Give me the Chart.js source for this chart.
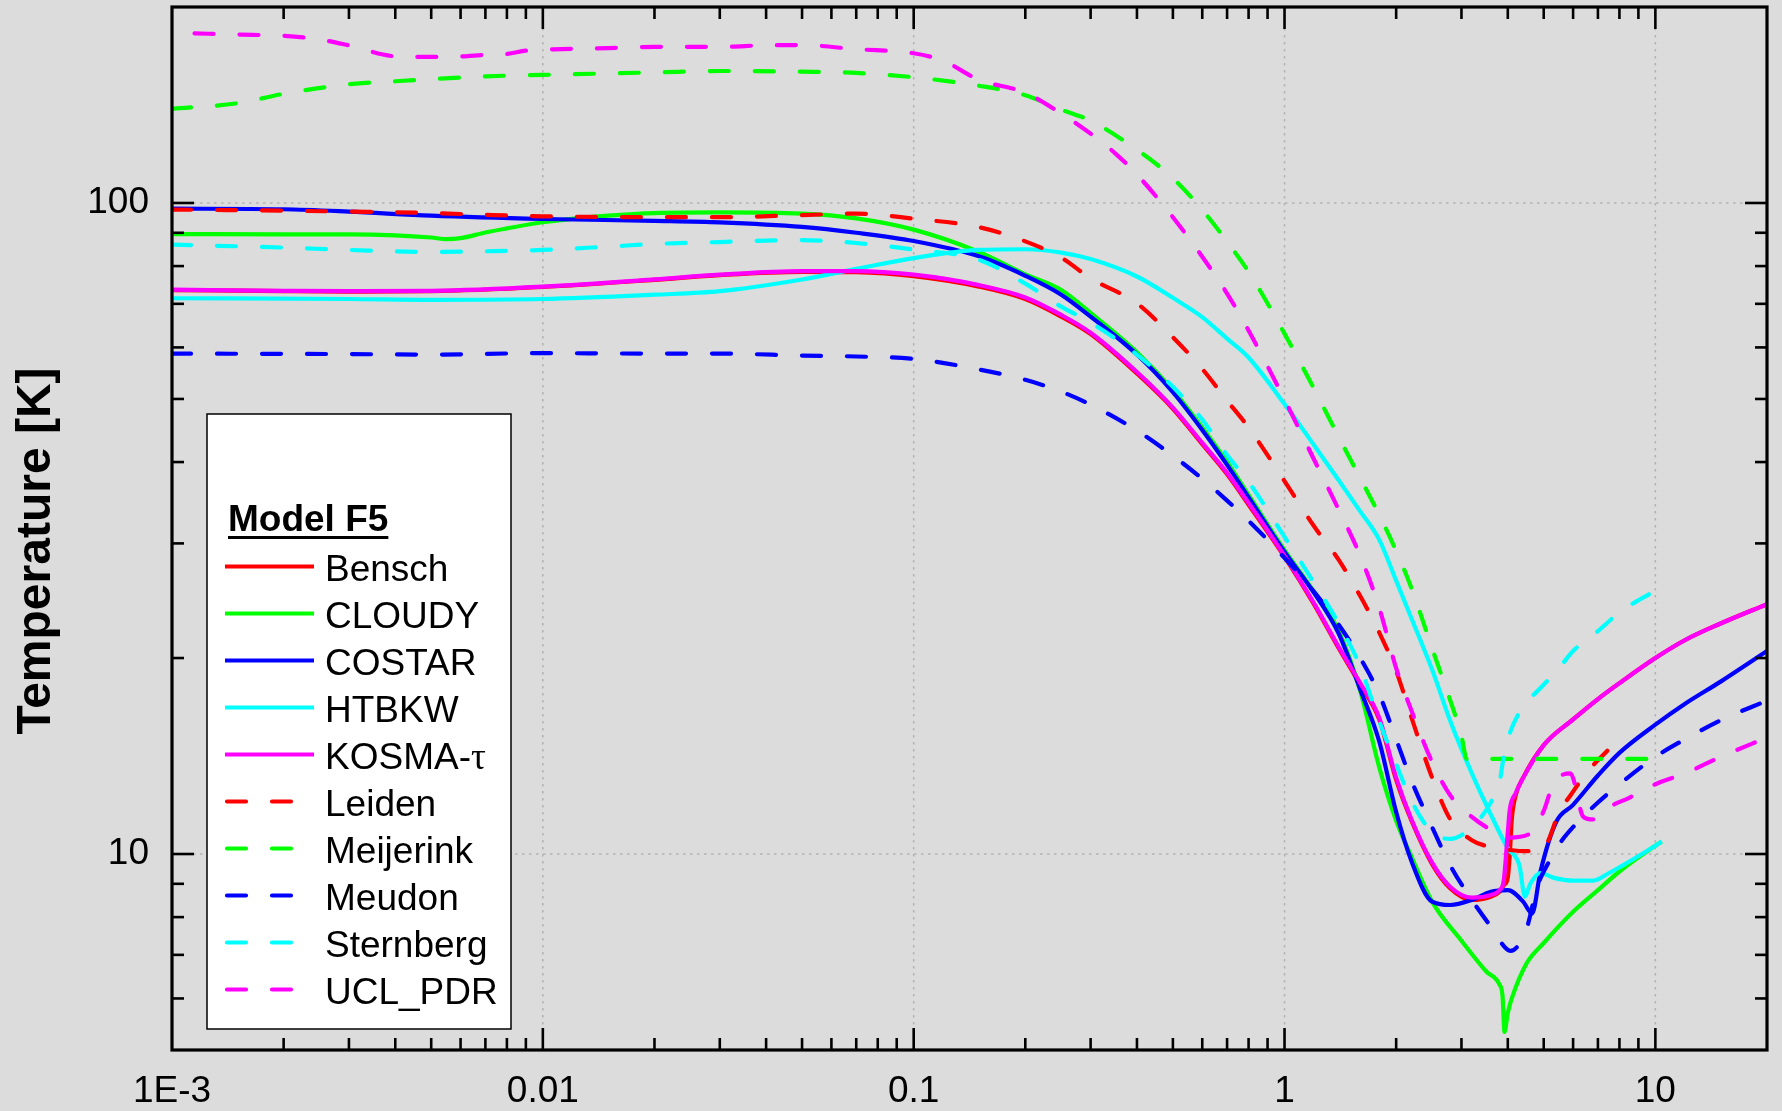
<!DOCTYPE html>
<html>
<head>
<meta charset="utf-8">
<title>Model F5 – Temperature</title>
<script src="https://cdn.jsdelivr.net/npm/chart.js@4.4.1/dist/chart.umd.min.js"></script>
<style>
  html, body { margin: 0; padding: 0; background: #dcdcdc; overflow: hidden; }
  #chart { display: block; }
</style>
</head>
<body>
<canvas id="chart" width="1782" height="1111" style="width:1782px;height:1111px"></canvas>
<script>
// ---------------- data ----------------
const legendTitle = 'Model F5';
const yAxisTitle = 'Temperature [K]';
const seriesNames  = ['Bensch','CLOUDY','COSTAR','HTBKW','KOSMA-τ','Leiden','Meijerink','Meudon','Sternberg','UCL_PDR'];
const seriesColors = ['#ff0000','#00ff00','#0000ff','#00ffff','#ff00ff','#ff0000','#00ff00','#0000ff','#00ffff','#ff00ff'];
const seriesDashed = [false,false,false,false,false,true,true,true,true,true];

const xTickValues = [0.001, 0.01, 0.1, 1, 10];
const xTickLabels = ['1E-3', '0.01', '0.1', '1', '10'];
const yTickValues = [10, 100];
const yTickLabels = ['10', '100'];
const xRange = [0.001, 20];
const yRange = [5, 200];

const benschX = [0.001,0.002,0.003,0.005,0.01,0.02,0.03,0.05,0.07,0.1,0.15,0.2,0.25,0.3,0.4,0.5,0.6,0.7,0.8,1,1.2,1.4,1.6,1.8,2,2.2,2.5,2.8,3.2,3.6,3.8,3.9,4,4.05,4.1,4.2,4.4,5,6,7,8,10,12,15,20];
const benschT = [73.5,73.2,73.1,73.2,74.3,76.2,77.5,78.4,78.3,77.2,74.4,71.2,66.9,62.9,54.7,48.3,42.6,38.3,34.4,28.6,24.2,20.7,18.2,16.1,13.0,11.25,9.65,8.85,8.5,8.6,8.75,8.95,9.2,10.0,11.3,12.3,13.1,14.7,16.1,17.3,18.3,20.0,21.3,22.6,24.2];

const cloudyX = [0.001,0.002,0.003,0.004,0.005,0.0055,0.006,0.007,0.008,0.01,0.015,0.02,0.03,0.05,0.07,0.1,0.15,0.2,0.25,0.3,0.4,0.5,0.6,0.7,0.8,1,1.2,1.4,1.6,1.8,2,2.2,2.5,3,3.5,3.8,3.87,3.92,4,4.1,4.5,5,6,7,8,10,10.4];
const cloudyT = [89.6,89.5,89.5,89.2,88.5,88.0,88.3,90.1,91.4,93.4,95.6,96.5,96.7,96.3,94.7,91.0,84.1,77.7,73.5,67.8,59.0,51.6,45.2,40.0,35.6,29.3,25.3,22.0,17.8,13.6,11.25,9.9,8.45,7.36,6.6,6.3,6.07,5.33,5.7,6.0,6.8,7.3,8.15,8.8,9.4,10.3,10.45];

const costarX = [0.001,0.002,0.003,0.005,0.01,0.02,0.03,0.05,0.07,0.1,0.15,0.2,0.25,0.3,0.4,0.5,0.6,0.7,0.8,1,1.2,1.4,1.6,1.8,2,2.2,2.5,2.8,3.2,3.6,4,4.4,4.65,4.9,5.4,6,7,8,10,12,15,20];
const costarT = [98.0,97.8,97.0,95.6,94.5,93.9,93.4,91.9,90.0,87.4,82.8,77.3,72.3,66.9,58.5,51.2,44.8,39.6,35.3,29.1,25.2,21.8,17.9,14.9,11.6,9.75,8.45,8.35,8.5,8.75,8.8,8.45,8.1,9.4,11.2,11.9,13.2,14.3,15.8,17.0,18.4,20.5];

const htbkwX = [0.001,0.003,0.005,0.01,0.02,0.03,0.05,0.07,0.1,0.15,0.2,0.25,0.3,0.4,0.5,0.6,0.7,0.8,1,1.2,1.4,1.6,1.8,2,2.2,2.5,2.8,3.2,3.6,4,4.3,4.45,4.6,4.9,5.3,6,6.8,7.5,10,10.4];
const htbkwT = [71.4,71.2,71.0,71.2,72.3,73.2,76.3,79.2,82.3,84.7,84.9,83.9,82.0,77.1,71.5,66.8,61.9,57.9,49.1,42.5,37.5,33.6,30.4,26.3,23.0,19.2,16.0,13.3,11.5,10.2,9.6,8.6,9.0,9.35,9.2,9.1,9.1,9.35,10.3,10.45];

const kosmaX = [0.001,0.002,0.003,0.005,0.01,0.02,0.03,0.05,0.07,0.1,0.15,0.2,0.25,0.3,0.4,0.5,0.6,0.7,0.8,1,1.2,1.4,1.6,1.8,2,2.2,2.5,2.8,3.2,3.6,3.8,3.9,4,4.05,4.2,4.4,5,6,7,8,10,12,15,20];
const kosmaT = [73.6,73.3,73.2,73.3,74.4,76.3,77.6,78.6,78.6,77.6,74.8,71.6,67.3,63.2,55.0,48.5,42.8,38.5,34.6,28.7,24.3,20.8,18.3,16.2,13.1,11.3,9.7,8.9,8.57,8.65,8.8,9.1,10.8,11.7,12.4,13.1,14.7,16.1,17.3,18.3,20.0,21.3,22.6,24.2];

const leidenX = [0.001,0.002,0.003,0.005,0.007,0.01,0.02,0.03,0.05,0.07,0.1,0.15,0.2,0.25,0.3,0.4,0.5,0.6,0.7,0.8,1,1.2,1.4,1.6,1.8,2,2.2,2.5,2.8,3.2,3.6,4,4.5,4.95,5.15,5.5,5.9,6.5,7.5];
const leidenT = [97.7,97.3,97.0,96.5,95.9,95.4,95.1,95.1,95.8,96.3,94.6,91.8,87.3,82.4,76.6,70.1,62.2,55.6,49.7,45.2,37.4,31.9,28.3,24.9,21.9,19.1,16.2,13.1,11.3,10.5,10.25,10.15,10.1,10.1,10.5,11.6,12.3,13.3,14.5];

const meijerinkX = [0.001,0.0015,0.002,0.003,0.004,0.005,0.007,0.01,0.02,0.03,0.05,0.07,0.1,0.15,0.2,0.25,0.3,0.4,0.5,0.6,0.7,0.8,1,1.2,1.4,1.6,1.8,2,2.2,2.5,2.8,3,3.1,5,10.8];
const meijerinkT = [139.5,142.3,147.1,152.2,153.8,155,156.5,157.3,158.7,159.5,159.1,158.4,156,151.4,146.4,139.1,133.8,120.7,109.2,97.6,87.2,78.4,63,51.9,43.7,37.8,33.2,29.2,25.6,20.7,17.2,15.2,14.0,14.0,14.0];

const meudonX = [0.001,0.003,0.005,0.01,0.02,0.03,0.05,0.07,0.1,0.15,0.2,0.25,0.3,0.4,0.5,0.6,0.7,0.8,1,1.2,1.4,1.6,1.8,2,2.2,2.5,2.8,3.2,3.6,4.07,4.5,4.8,5.2,5.5,6,7,8,10,12,15,20];
const meudonT = [58.7,58.6,58.5,58.8,58.7,58.7,58.3,58.1,57.6,55.5,53.5,51.3,49.0,44.7,40.9,37.7,34.9,32.5,28.5,25.3,22.5,20.0,17.6,15.0,12.96,11.0,9.6,8.5,7.74,7.1,7.7,8.9,9.8,10.35,11.0,12.0,12.8,14.1,15.0,16.05,17.2];

const sternbergX = [0.001,0.002,0.003,0.005,0.007,0.01,0.015,0.02,0.03,0.05,0.07,0.1,0.15,0.2,0.25,0.3,0.4,0.5,0.6,0.7,0.8,1,1.2,1.4,1.6,1.8,2,2.2,2.5,2.8,3.2,3.6,3.8,3.9,4,4.3,5,5.5,6,7,8,10,10.8];
const sternbergT = [86.3,85.4,84.7,84.1,84.3,84.7,85.7,86.5,87.1,87.7,86.8,84.8,81.8,75.2,69.3,65.5,58.5,52.2,46.5,41.0,37.3,30.7,26.1,22.6,19.4,16.0,13.75,12.07,10.8,10.55,11.0,12.0,12.9,14.1,15.0,16.5,18.2,19.3,20.5,22.0,23.5,25.4,26.1];

const uclX = [0.00115,0.0015,0.002,0.0025,0.003,0.004,0.005,0.006,0.007,0.008,0.009,0.01,0.015,0.02,0.03,0.04,0.05,0.07,0.1,0.12,0.15,0.2,0.25,0.3,0.35,0.4,0.5,0.6,0.7,0.8,1,1.2,1.4,1.6,1.8,2,2.2,2.5,2.8,3.2,3.5,4,4.6,5,5.3,5.9,6.4,6.8,7.5,8.5,10,12,15,20];
const uclT = [182.2,181.4,180.6,178.3,174.6,168.0,167.6,167.9,168.9,169.4,171.4,172.0,172.9,173.7,173.7,174.7,174.8,172.3,169.8,165.4,154.6,147.7,137.2,127.8,119.1,110.6,95.1,82.7,72.6,63.7,49.9,40.4,33.8,28.7,23.9,19.3,16.6,13.85,12.3,11.4,11.0,10.6,10.75,11.65,12.8,13.3,11.4,11.3,11.8,12.2,12.8,13.3,14.1,15.1];

const seriesX = [benschX, cloudyX, costarX, htbkwX, kosmaX, leidenX, meijerinkX, meudonX, sternbergX, uclX];
const seriesT = [benschT, cloudyT, costarT, htbkwT, kosmaT, leidenT, meijerinkT, meudonT, sternbergT, uclT];

// ---------------- styling ----------------
const FONT = '"Liberation Sans", Arial, Helvetica, sans-serif';
const SERIF = '"Liberation Serif", "Times New Roman", serif';
const DASH = [19, 26];
const LINE_W = 4.2;

Chart.defaults.font.family = FONT;
Chart.defaults.color = '#000';

function minorValues(decades, lo, hi) {
  const out = [];
  decades.forEach(d => {
    for (let m = 2; m <= 9; m++) {
      const v = d * m;
      if (v > lo * 1.0001 && v < hi * 0.9999) out.push(v);
    }
  });
  return out;
}

const framePlugin = {
  id: 'originFrame',
  beforeDatasetsDraw(chart) {
    const { ctx, chartArea: a, scales: { x, y } } = chart;
    ctx.save();
    ctx.strokeStyle = '#b2b2b2';
    ctx.lineWidth = 1.5;
    ctx.setLineDash([2.5, 4.5]);
    xTickValues.forEach(v => {
      const p = x.getPixelForValue(v);
      if (p <= a.left + 3 || p >= a.right - 3) return;
      ctx.beginPath(); ctx.moveTo(p, a.top); ctx.lineTo(p, a.bottom); ctx.stroke();
    });
    yTickValues.forEach(v => {
      const p = y.getPixelForValue(v);
      if (p <= a.top + 3 || p >= a.bottom - 3) return;
      ctx.beginPath(); ctx.moveTo(a.left, p); ctx.lineTo(a.right, p); ctx.stroke();
    });
    ctx.restore();
  },
  afterDatasetsDraw(chart) {
    const { ctx, chartArea: a, scales: { x, y } } = chart;
    ctx.save();

    // ---- legend box ----
    const bx = 207, by = 414, bw = 304, bh = 615;
    ctx.setLineDash([]);
    ctx.fillStyle = '#ffffff';
    ctx.fillRect(bx, by, bw, bh);
    ctx.strokeStyle = '#000';
    ctx.lineWidth = 1.5;
    ctx.strokeRect(bx, by, bw, bh);

    ctx.fillStyle = '#000';
    ctx.textAlign = 'left';
    ctx.textBaseline = 'alphabetic';
    ctx.font = 'bold 37px ' + FONT;
    const tx = 228, tBase = 531;
    ctx.fillText(legendTitle, tx, tBase);
    const tw = ctx.measureText(legendTitle).width;
    ctx.lineWidth = 2.8;
    ctx.beginPath(); ctx.moveTo(tx, tBase + 6.5); ctx.lineTo(tx + tw, tBase + 6.5); ctx.stroke();

    chart.data.datasets.forEach((ds, i) => {
      const cy = 566.5 + 47 * i;
      ctx.strokeStyle = ds.borderColor;
      ctx.lineWidth = LINE_W;
      if (ds.borderDash && ds.borderDash.length) {
        ctx.setLineDash(ds.borderDash);
        ctx.lineCap = 'round';
        ctx.beginPath(); ctx.moveTo(227, cy); ctx.lineTo(314, cy); ctx.stroke();
      } else {
        ctx.setLineDash([]);
        ctx.lineCap = 'butt';
        ctx.beginPath(); ctx.moveTo(225, cy); ctx.lineTo(314, cy); ctx.stroke();
      }
      ctx.setLineDash([]);
      ctx.fillStyle = '#000';
      const label = ds.label;
      const lx = 325, base = cy + 14;
      const k = label.indexOf('τ');
      if (k >= 0) {
        ctx.font = '37px ' + FONT;
        const pre = label.slice(0, k);
        ctx.fillText(pre, lx, base);
        const pw = ctx.measureText(pre).width;
        ctx.font = '37px ' + SERIF;
        ctx.fillText(label.slice(k), lx + pw, base);
      } else {
        ctx.font = '37px ' + FONT;
        ctx.fillText(label, lx, base);
      }
    });

    // ---- frame ----
    ctx.setLineDash([]);
    ctx.lineCap = 'butt';
    ctx.strokeStyle = '#000';
    ctx.lineWidth = 3.2;
    ctx.strokeRect(a.left, a.top, a.right - a.left, a.bottom - a.top);

    // ---- inward ticks on all four sides ----
    ctx.lineWidth = 2.6;
    const seg = (x1, y1, x2, y2) => { ctx.beginPath(); ctx.moveTo(x1, y1); ctx.lineTo(x2, y2); ctx.stroke(); };
    const xt = xTickValues.map(v => [v, 22]).concat(minorValues(xTickValues, xRange[0], xRange[1]).map(v => [v, 12]));
    xt.forEach(([v, len]) => {
      const p = x.getPixelForValue(v);
      if (p <= a.left + 2 || p >= a.right - 2) return;
      seg(p, a.top, p, a.top + len);
      seg(p, a.bottom, p, a.bottom - len);
    });
    const yDecades = [1, 10, 100];
    const yt = yTickValues.map(v => [v, 22]).concat(minorValues(yDecades, yRange[0], yRange[1]).map(v => [v, 12]));
    yt.forEach(([v, len]) => {
      const p = y.getPixelForValue(v);
      if (p <= a.top + 2 || p >= a.bottom - 2) return;
      seg(a.left, p, a.left + len, p);
      seg(a.right, p, a.right - len, p);
    });

    // ---- y axis title ----
    ctx.fillStyle = '#000';
    ctx.font = 'bold 48px ' + FONT;
    ctx.textAlign = 'center';
    ctx.textBaseline = 'alphabetic';
    ctx.translate(50, 551);
    ctx.rotate(-Math.PI / 2);
    ctx.fillText(yAxisTitle, 0, 0);

    ctx.restore();
  }
};

const datasets = seriesNames.map((name, i) => ({
  label: name,
  data: seriesX[i].map((xv, j) => ({ x: xv, y: seriesT[i][j] })),
  borderColor: seriesColors[i],
  backgroundColor: seriesColors[i],
  borderWidth: LINE_W,
  borderDash: seriesDashed[i] ? DASH : [],
  borderCapStyle: seriesDashed[i] ? 'round' : 'butt',
  borderJoinStyle: 'round',
  pointRadius: 0,
  pointHoverRadius: 0,
  cubicInterpolationMode: 'monotone',
  fill: false,
  order: seriesNames.length - i
}));

function noEdgePadding(s) {
  s.paddingTop = 0; s.paddingBottom = 0; s.paddingLeft = 0; s.paddingRight = 0;
}

new Chart(document.getElementById('chart'), {
  type: 'line',
  data: { datasets },
  options: {
    responsive: false,
    animation: false,
    devicePixelRatio: 1,
    layout: { padding: { left: 0, right: 15, top: 7, bottom: 0 } },
    plugins: { legend: { display: false }, tooltip: { enabled: false } },
    scales: {
      x: {
        type: 'logarithmic',
        position: 'bottom',
        min: xRange[0], max: xRange[1],
        afterBuildTicks: s => { s.ticks = xTickValues.map(v => ({ value: v })); },
        afterFit: s => { s.height = 61; noEdgePadding(s); },
        ticks: {
          autoSkip: false, maxRotation: 0, minRotation: 0, padding: 20,
          font: { family: FONT, size: 37 }, color: '#000',
          callback: (v, i) => xTickLabels[i]
        },
        grid: { display: false, drawTicks: false },
        border: { display: false }
      },
      y: {
        type: 'logarithmic',
        position: 'left',
        min: yRange[0], max: yRange[1],
        afterBuildTicks: s => { s.ticks = yTickValues.map(v => ({ value: v })); },
        afterFit: s => { s.width = 172; noEdgePadding(s); },
        ticks: {
          autoSkip: false, padding: 23,
          font: { family: FONT, size: 37 }, color: '#000',
          callback: (v, i) => yTickLabels[i]
        },
        grid: { display: false, drawTicks: false },
        border: { display: false }
      }
    }
  },
  plugins: [framePlugin]
});
</script>
</body>
</html>
